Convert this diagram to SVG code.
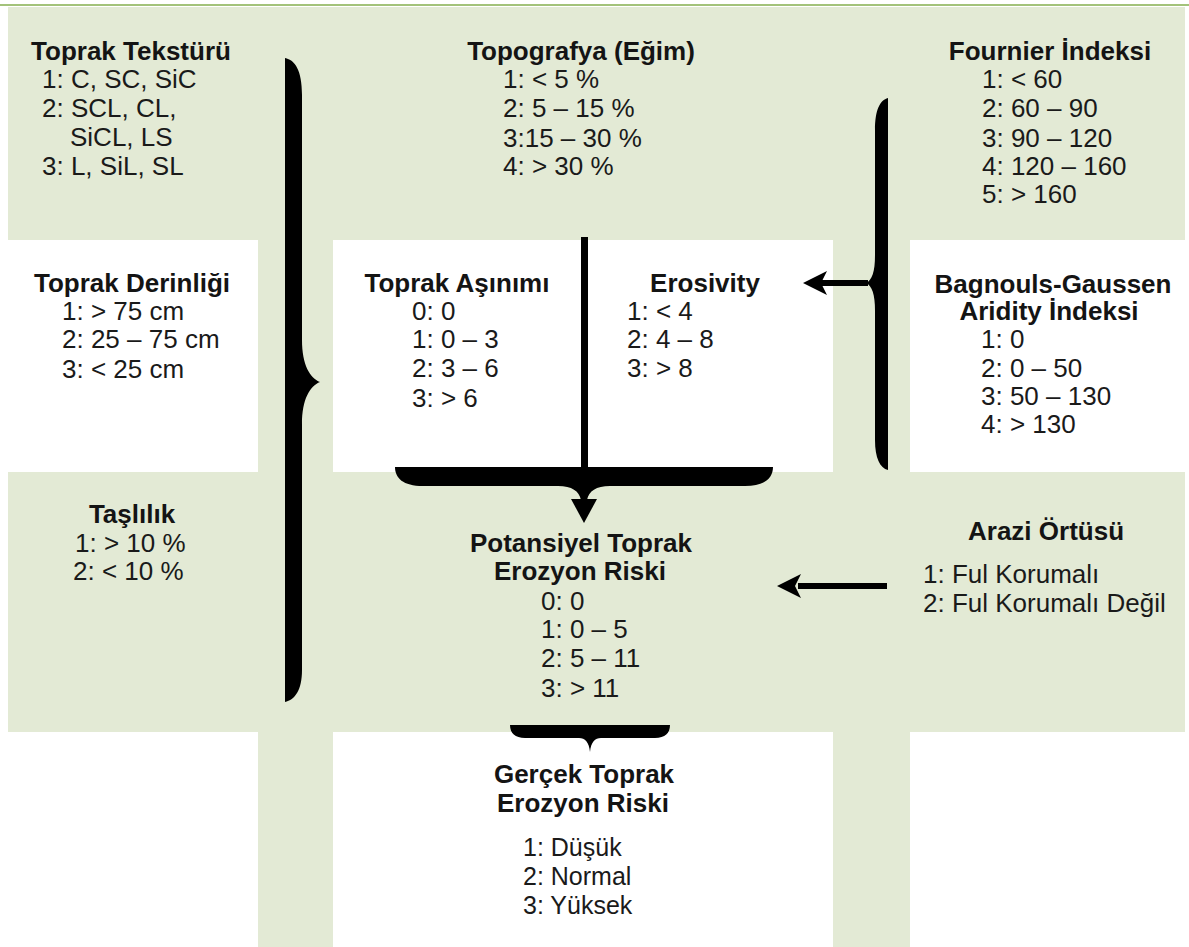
<svg xmlns="http://www.w3.org/2000/svg" width="1189" height="947" viewBox="0 0 1189 947">
<style>
.g{fill:#e3ead5}
.t{font-family:"Liberation Sans",Arial,sans-serif;font-size:26px;font-weight:bold;fill:#141414;text-anchor:middle}
.l{font-family:"Liberation Sans",Arial,sans-serif;font-size:26px;fill:#1a1a1a}
.s{font-size:25px}
.k{fill:#000}
</style>
<rect x="0" y="0" width="1189" height="947" fill="#ffffff"/>
<g id="background">
<rect class="g" x="8" y="7" width="1177" height="233"/>
<rect class="g" x="8" y="472" width="1177" height="260"/>
<rect class="g" x="258" y="7" width="75" height="940"/>
<rect class="g" x="833" y="7" width="77" height="940"/>
<line x1="0" y1="5" x2="1189" y2="5" stroke="#a3c27a" stroke-width="2"/>
</g>
<g id="node-tekstur">
<text class="t" x="131" y="60">Toprak Tekstürü</text>
<text class="l" x="42" y="88">1: C, SC, SiC</text>
<text class="l" x="42" y="117">2: SCL, CL,</text>
<text class="l" x="70" y="146">SiCL, LS</text>
<text class="l" x="42" y="175">3: L, SiL, SL</text>
</g>
<g id="node-topografya">
<text class="t" x="581" y="60">Topografya (Eğim)</text>
<text class="l" x="503" y="88">1: &lt; 5 %</text>
<text class="l" x="503" y="117">2: 5 – 15 %</text>
<text class="l" x="503" y="147">3:15 – 30 %</text>
<text class="l" x="503" y="175">4: &gt; 30 %</text>
</g>
<g id="node-fournier">
<text class="t" x="1050" y="60">Fournier İndeksi</text>
<text class="l" x="982" y="88">1: &lt; 60</text>
<text class="l" x="982" y="117">2: 60 – 90</text>
<text class="l" x="982" y="147">3: 90 – 120</text>
<text class="l" x="982" y="175">4: 120 – 160</text>
<text class="l" x="982" y="203">5: &gt; 160</text>
</g>
<g id="node-derinlik">
<rect x="8" y="240" width="250" height="232" fill="#ffffff"/>
<text class="t" x="132" y="292">Toprak Derinliği</text>
<text class="l" x="62" y="320">1: &gt; 75 cm</text>
<text class="l" x="62" y="348">2: 25 – 75 cm</text>
<text class="l" x="62" y="378">3: &lt; 25 cm</text>
</g>
<g id="node-center-box">
<rect x="333" y="240" width="500" height="230" fill="#ffffff"/>
</g>
<g id="node-asinim">
<text class="t" x="457" y="292">Toprak Aşınımı</text>
<text class="l" x="412" y="320">0: 0</text>
<text class="l" x="412" y="348">1: 0 – 3</text>
<text class="l" x="412" y="377">2: 3 – 6</text>
<text class="l" x="412" y="407">3: &gt; 6</text>
</g>
<g id="node-erosivity">
<text class="t" x="705" y="292">Erosivity</text>
<text class="l" x="627" y="320">1: &lt; 4</text>
<text class="l" x="627" y="348">2: 4 – 8</text>
<text class="l" x="627" y="377">3: &gt; 8</text>
</g>
<g id="node-bagnouls">
<rect x="910" y="240" width="279" height="232" fill="#ffffff"/>
<text class="t" x="1053" y="293">Bagnouls-Gaussen</text>
<text class="t" x="1049" y="320">Aridity İndeksi</text>
<text class="l" x="981" y="348">1: 0</text>
<text class="l" x="981" y="377">2: 0 – 50</text>
<text class="l" x="981" y="405">3: 50 – 130</text>
<text class="l" x="981" y="433">4: &gt; 130</text>
</g>
<g id="node-taslilik">
<text class="t" x="132" y="523">Taşlılık</text>
<text class="l" x="75" y="552">1: &gt; 10 %</text>
<text class="l" x="73" y="580">2: &lt; 10 %</text>
</g>
<g id="node-potansiyel">
<text class="t" x="581" y="552">Potansiyel Toprak</text>
<text class="t" x="580" y="580">Erozyon Riski</text>
<text class="l" x="541" y="610">0: 0</text>
<text class="l" x="541" y="638">1: 0 – 5</text>
<text class="l" x="541" y="667">2: 5 – 11</text>
<text class="l" x="541" y="697">3: &gt; 11</text>
</g>
<g id="node-arazi">
<text class="t" x="1046" y="540">Arazi Örtüsü</text>
<text class="l" x="923" y="583">1: Ful Korumalı</text>
<text class="l" x="923" y="612">2: Ful Korumalı Değil</text>
</g>
<g id="node-gercek">
<text class="t" x="584" y="783">Gerçek Toprak</text>
<text class="t" x="583" y="812">Erozyon Riski</text>
<text class="l s" x="523" y="856">1: Düşük</text>
<text class="l s" x="523" y="885">2: Normal</text>
<text class="l s" x="523" y="914">3: Yüksek</text>
</g>
<g id="connectors">
<path class="k" d="M285,58 C295,60 302,70 302,95 L302,340 C302,365 310,378 320,382 C310,386 302,399 302,424 L302,670 C302,690 295,700 285,702 Z"/>
<path class="k" d="M888,98 C880,100 875,110 875,130 L875,255 C875,272 872,280 866,283 C872,286 875,294 875,311 L875,440 C875,458 880,468 888,470 Z"/>
<rect class="k" x="820" y="280" width="48" height="6"/>
<polygon class="k" points="803,283 827,271 821,283 827,295"/>
<rect class="k" x="581" y="237" width="7" height="232"/>
<path class="k" d="M395,467 L773,467 C773,478 765,486 745,486 L610,486 C596,486 589,491 587,500 L581,500 C579,491 572,486 558,486 L423,486 C403,486 395,478 395,467 Z"/>
<polygon class="k" points="571,499 597,499 584,523"/>
<rect class="k" x="798" y="583" width="89" height="6"/>
<polygon class="k" points="777,586 801,574 795,586 801,598"/>
<path class="k" d="M510,725 L670,725 C670,733 665,738 655,738 L601,738 C595,738 591,742 590,752 C589,742 585,738 579,738 L525,738 C515,738 510,733 510,725 Z"/>
</g>
</svg>
